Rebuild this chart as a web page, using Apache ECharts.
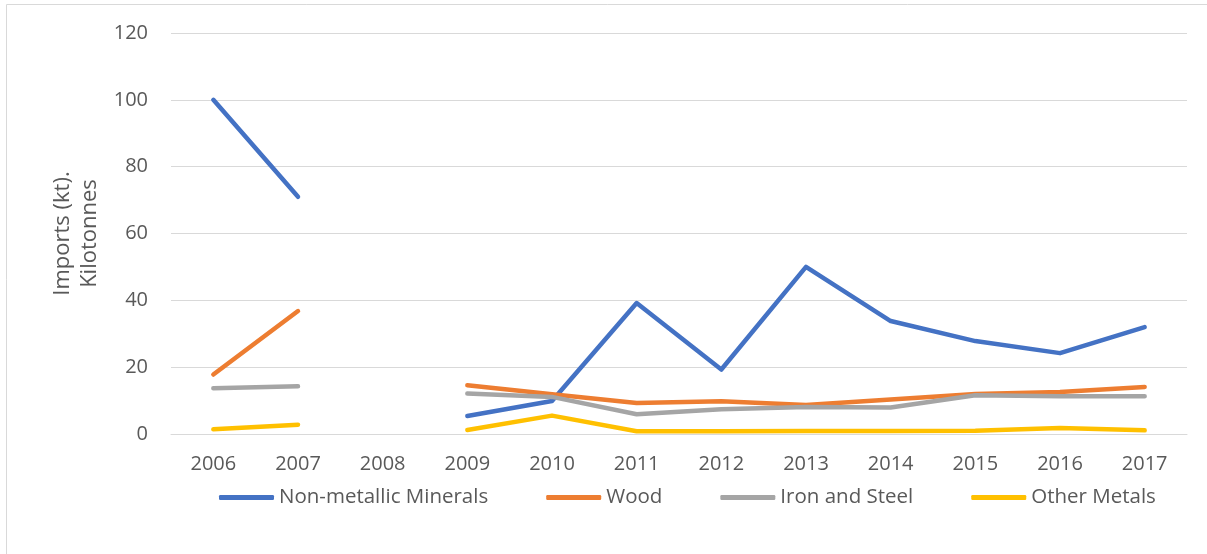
<!DOCTYPE html>
<html>
<head>
<meta charset="utf-8">
<script src="https://cdn.jsdelivr.net/npm/echarts@6/dist/echarts.min.js"></script>
<style>html,body{margin:0;padding:0;background:#fff}#c{width:1207px;height:554px}</style>
</head>
<body>
<div id="c"></div>
<script>
const years = ['2006','2007','2008','2009','2010','2011','2012','2013','2014','2015','2016','2017'];
const nonMetallic = [100, 71, null, 5.4, 9.9, 39.2, 19.3, 50, 33.8, 27.8, 24.2, 32];
const wood = [17.8, 36.8, null, 14.6, 11.9, 9.3, 9.8, 8.7, 10.3, 12.0, 12.6, 14.1];
const ironSteel = [13.7, 14.3, null, 12.1, 11.1, 5.9, 7.4, 8.1, 7.9, 11.6, 11.3, 11.3];
const otherMetals = [1.4, 2.8, null, 1.2, 5.5, 0.8, 0.8, 0.9, 0.9, 1.0, 1.8, 1.1];
const seriesNames = ['Non-metallic Minerals', 'Wood', 'Iron and Steel', 'Other Metals'];
const yTicks = [0, 20, 40, 60, 80, 100, 120];

const colors = ['#4472C4', '#ED7D31', '#A5A5A5', '#FFC000'];
const font = '"Open Sans", Lato, sans-serif';
const chart = echarts.init(document.getElementById('c'));
const mk = (name, data, i) => ({
  name, type: 'line', data, showSymbol: false, symbol: 'none',
  connectNulls: false,
  lineStyle: { width: 4.5, color: colors[i], cap: 'round', join: 'round' },
  itemStyle: { color: colors[i] }
});
chart.setOption({
  animation: false,
  textStyle: { fontFamily: font },
  graphic: [{
    type: 'rect', shape: { x: 6.5, y: 4.5, width: 1300, height: 700 },
    style: { fill: 'none', stroke: '#d9d9d9', lineWidth: 1 }, silent: true
  }],
  grid: { left: 171, right: 20, top: 33, bottom: 120 },
  legend: {
    left: 214, top: 482,
    itemWidth: 55, itemHeight: 5, itemGap: 58,
    icon: 'roundRect',
    textStyle: { color: '#595959', fontSize: 20.5, fontFamily: font },
    data: seriesNames
  },
  xAxis: {
    type: 'category', data: years, boundaryGap: true,
    axisLine: { show: true, lineStyle: { color: '#d9d9d9', width: 1 } },
    axisTick: { show: false },
    axisLabel: { color: '#595959', fontSize: 20, margin: 20, fontFamily: font }
  },
  yAxis: {
    type: 'value', min: yTicks[0], max: yTicks[yTicks.length - 1], interval: 20,
    name: 'Imports (kt).\nKilotonnes', nameLocation: 'middle', nameGap: 68, nameRotate: 90,
    nameTextStyle: { color: '#595959', fontSize: 22, lineHeight: 27, fontFamily: font },
    axisLine: { show: false }, axisTick: { show: false },
    splitLine: { lineStyle: { color: '#d9d9d9', width: 1 } },
    axisLabel: { color: '#595959', fontSize: 20, margin: 23, fontFamily: font }
  },
  series: [
    mk(seriesNames[0], nonMetallic, 0),
    mk(seriesNames[1], wood, 1),
    mk(seriesNames[2], ironSteel, 2),
    mk(seriesNames[3], otherMetals, 3)
  ]
});
</script>
</body>
</html>
